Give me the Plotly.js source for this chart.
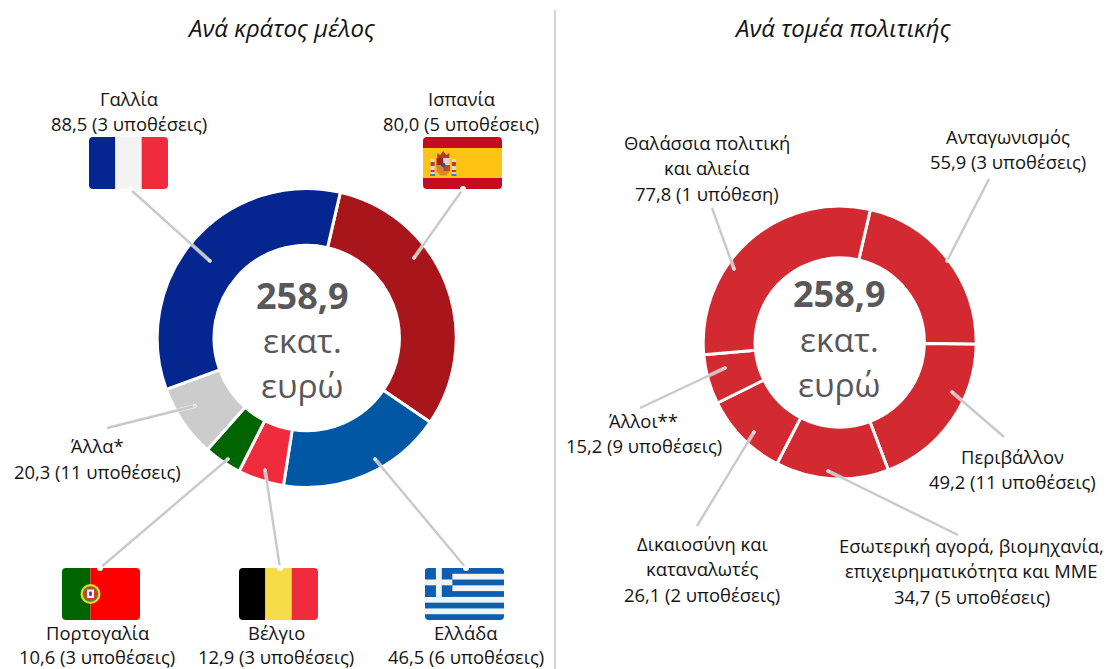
<!DOCTYPE html>
<html><head><meta charset="utf-8">
<script src="https://cdn.plot.ly/plotly-3.0.1.min.js"></script>
<style>html,body{margin:0;padding:0;background:#fff}#c{width:1107px;height:669px}</style>
</head><body><div id="c"></div>
<script>
const W = 1107, H = 669;
const FONT = '"Open Sans","Noto Sans",sans-serif';

// Data, left donut
const memberStates = ['Ισπανία','Ελλάδα','Βέλγιο','Πορτογαλία','Άλλα*','Γαλλία'];
const memberValues = [80.0,46.5,12.9,10.6,20.3,88.5];
const memberCases = [5,6,3,3,11,3];
const memberColors = ['#a8151b','#0058a5','#ef2b3d','#006400','#cccccc','#06268f'];

// Data, right donut
const policyLines = [['Ανταγωνισμός'],['Περιβάλλον'],['Εσωτερική αγορά, βιομηχανία,','επιχειρηματικότητα και ΜΜΕ'],['Δικαιοσύνη και','καταναλωτές'],['Άλλοι**'],['Θαλάσσια πολιτική','και αλιεία']];
const policyValues = [55.9,49.2,34.7,26.1,15.2,77.8];
const policyCases = [3,11,5,2,9,1];
const policyColor = '#d22a30';

const totalText = '258,9', unitLines = ['εκατ.','ευρώ'];
const titles = ['Ανά κράτος μέλος','Ανά τομέα πολιτικής'];

const fx = x => x / W, fy = y => 1 - y / H;
const numText = v => v.toFixed(1).replace('.', ',');
const caseText = n => n === 1 ? '1 υπόθεση' : n + ' υποθέσεις';

const annotations = [], shapes = [], images = [];
function text(str, x, y, size, color, extra) {
  annotations.push(Object.assign({text: str, x: fx(x), y: fy(y), xref:'paper', yref:'paper', xanchor:'center', yanchor:'middle', showarrow:false,
    font:{family:FONT, size:size, color:color}}, extra||{}));
}
function label(lines, value, n, cx, y0, step) {
  const all = lines.concat([numText(value) + ' (' + caseText(n) + ')']);
  all.forEach((s,i) => text(s, cx, y0 + i*step, 18.4, '#141414'));
}
function leader(x0,y0,x1,y1) {
  const ln = (w,c,o) => shapes.push({type:'line',xref:'paper',yref:'paper',x0:fx(x0),y0:fy(y0),x1:fx(x1),y1:fy(y1),line:{color:c,width:w},opacity:o});
  ln(4,'#ffffff',0.55);
  ln(2.4,'#c9c9c9',1);
  const r = 1.5;
  shapes.push({type:'circle',xref:'paper',yref:'paper',x0:fx(x1-r),x1:fx(x1+r),y0:fy(y1-r),y1:fy(y1+r),fillcolor:'#d4d4d4',line:{color:'#ffffff',width:0.6}});
}
function notch(x,y) {
  const r = 3;
  shapes.push({type:'circle',xref:'paper',yref:'paper',x0:fx(x-r),x1:fx(x+r),y0:fy(y-r),y1:fy(y+r),fillcolor:'#ffffff',line:{width:0}});
}
function flag(inner, x, y, w, h) {
  const svg = '<svg xmlns="http://www.w3.org/2000/svg" width="780" height="520" viewBox="0 0 78 52"><clipPath id="k"><rect width="78" height="52" rx="4" ry="4"/></clipPath><g clip-path="url(#k)">' + inner + '</g></svg>';
  images.push({source:'data:image/svg+xml;charset=utf-8,' + encodeURIComponent(svg), xref:'paper', yref:'paper', x:fx(x), y:fy(y), sizex:w/W, sizey:h/H, sizing:'stretch', xanchor:'left', yanchor:'top', layer:'above'});
}
const R = (x,y,w,h,c) => `<rect x="${x}" y="${y}" width="${w}" height="${h}" fill="${c}"/>`;

const flagFR = R(0,0,26,52,'#06268f')+R(26,0,26,52,'#f3f3f3')+R(52,0,26,52,'#ef2b3d');
const flagBE = R(0,0,26,52,'#000000')+R(26,0,26,52,'#f7dc4a')+R(52,0,26,52,'#ef2b3d');
const flagES = R(0,0,78,52,'#c60b1e')+R(0,11,78,30,'#ffc413')
  // pillars
  +R(7.5,22,4,16,'#d8d8d8')+R(7.5,25,4,4,'#c0392b')+R(7.5,33,4,2,'#c0392b')+R(7,37,5,2,'#3f7fb5')
  +R(28.5,22,4,16,'#d8d8d8')+R(28.5,25,4,4,'#c0392b')+R(28.5,33,4,2,'#c0392b')+R(28,37,5,2,'#3f7fb5')
  // crown
  +'<path d="M14 21 L14 16 L17 18 L20 14 L23 18 L26 16 L26 21Z" fill="#a8421c"/>'
  // shield
  +R(13.5,21,13,10,'#b8651b')+R(13.5,21,6.5,7,'#a81e1e')+R(20,21,6.5,7,'#dcd6d6')+R(13.5,28,6.5,6,'#d98a1d')+R(20,28,6.5,6,'#c2452a')
  +'<path d="M13.5 34 L26.5 34 L23 38.5 L17 38.5Z" fill="#d98a1d"/>'
  +'<circle cx="20" cy="28" r="2.2" fill="#34508f"/>';
const flagPT = R(0,0,28.5,52,'#006400')+R(28.5,0,50,52,'#ff0000')
  +'<circle cx="28.5" cy="26" r="10" fill="#ead52f"/><circle cx="28.5" cy="26" r="7.8" fill="#3f8f2f"/><circle cx="28.5" cy="26" r="6.2" fill="#e3352b"/>'
  +R(25,21.5,7,8.5,'#ffffff')+R(27.1,23.6,2.8,4.2,'#2a4fa8');
let stripes = R(0,0,78,52,'#f3f3f3');
for (let i=0;i<9;i+=2) stripes += R(0,i*52/9,78,52/9,'#0d5eaf');
const flagGR = stripes+R(0,0,27,28.9,'#0d5eaf')+R(10.8,0,5.8,28.9,'#f3f3f3')+R(0,11.5,27,5.8,'#f3f3f3');

// Leader lines first so flags' notches sit on top
leader(130,189,210,261); notch(130,189);
leader(463,189,414,258); notch(463,189);
leader(466,568,375,459); notch(466,568);
leader(280,568,265,470); notch(280,568);
leader(100,568,228,459); notch(100,568);
leader(107,428,195,406);
leader(712,208,734,269);
leader(989,179,947,261);
leader(1004,437,952,392);
leader(958,535,828,471);
leader(697,526,754,432);
leader(640,408,725,368);

flag(flagFR,89,137,79,52);
flag(flagES,423,137,79,52);
flag(flagPT,62,568,78,52);
flag(flagBE,239,568,79,52);
flag(flagGR,425,568,79,52);

// Divider
shapes.push({type:'line',xref:'paper',yref:'paper',x0:fx(555),x1:fx(555),y0:fy(10),y1:fy(669),line:{color:'#d4d4d4',width:2}});

// Titles
const titleFont = {family:FONT,size:24,color:'#141414',style:'italic'};
text(titles[0],281,28,24,'#141414',{font:titleFont});
text(titles[1],842.5,28,24,'#141414',{font:titleFont});

// Labels
const memberPos = [[461,98],[465.5,632],[276,632],[97,632],[97.5,445],[129,98]];
memberStates.forEach((s,i)=>label([s],memberValues[i],memberCases[i],memberPos[i][0],memberPos[i][1],i>=1&&i<=3?24.5:26));
const policyPos = [[1007.5,136],[1013,456],[971.5,545],[702,543],[643.5,420],[707,142]];
policyLines.forEach((l,i)=>label(l,policyValues[i],policyCases[i],policyPos[i][0],policyPos[i][1],25.5));

// Centres
[[302.5,295],[839.5,294]].forEach(([cx,cy])=>{
  text('<b>'+totalText+'</b>',cx,cy,36,'#58585a');
  text(unitLines[0],cx,cy+45,33.5,'#58585a');
  text(unitLines[1],cx,cy+90,33.5,'#58585a');
});

function donut(values, colors, cx, cy, r) {
  return {type:'pie', values:values, sort:false, direction:'clockwise', rotation:13, hole:0.62,
    textinfo:'none', hoverinfo:'skip', showlegend:false,
    marker:{colors:colors, line:{color:'#ffffff',width:3}},
    domain:{x:[fx(cx-r),fx(cx+r)], y:[fy(cy+r),fy(cy-r)]}};
}
const traces = [
  donut(memberValues, memberColors, 306.7, 338, 149.5),
  donut(policyValues, policyValues.map(()=>policyColor), 839.7, 342.5, 136.5)
];
Plotly.newPlot('c', traces, {
  width:W, height:H, margin:{l:0,r:0,t:0,b:0}, paper_bgcolor:'#fff', showlegend:false,
  annotations:annotations, shapes:shapes, images:images
}, {displayModeBar:false, staticPlot:true});
</script></body></html>
